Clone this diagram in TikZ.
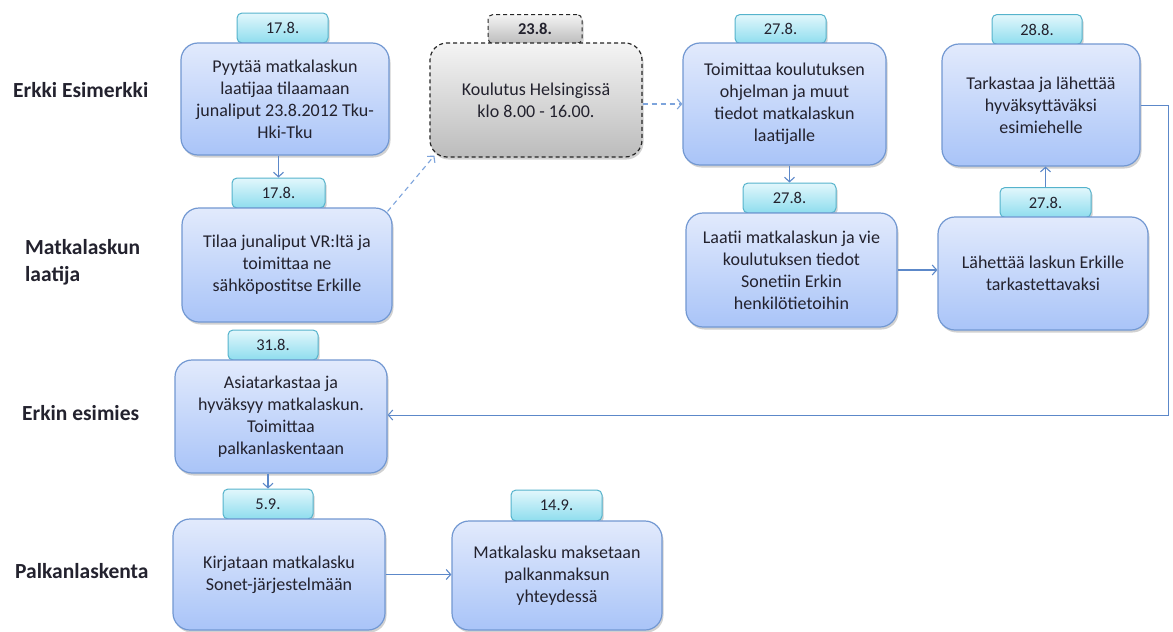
\documentclass[tikz,border=0pt]{standalone}
\usepackage{fontspec}
\setmainfont{Carlito}
\usetikzlibrary{arrows.meta,shadows,calc}

\definecolor{boxtop}{HTML}{E2EAFC}
\definecolor{boxbot}{HTML}{A9C4F8}
\definecolor{boxline}{HTML}{7298D2}
\definecolor{tabtop}{HTML}{E2F7FC}
\definecolor{tabbot}{HTML}{8EDDEE}
\definecolor{tabline}{HTML}{55B3CC}
\definecolor{greytop}{HTML}{F4F4F4}
\definecolor{greybot}{HTML}{BCBCBC}
\definecolor{inkcol}{HTML}{23222E}
\definecolor{linecol}{HTML}{5C88C9}
\definecolor{dashcol}{HTML}{7DA4DC}

\tikzset{
  softshadow/.style={drop shadow={shadow xshift=1.5pt, shadow yshift=-2.5pt, opacity=0.18, fill=black}},
  stepbox/.style={draw=boxline, line width=1.2pt, rounded corners=17pt,
    top color=boxtop, bottom color=boxbot, softshadow, inner sep=0pt,
    align=center, text=inkcol, font=\fontsize{18}{22}\selectfont},
  greybox/.style={stepbox, draw=black!85, dashed, dash pattern=on 4pt off 3pt,
    top color=greytop, bottom color=greybot},
  datetab/.style={draw=tabline, line width=1pt, rounded corners=5pt,
    top color=tabtop, bottom color=tabbot, softshadow, inner sep=0pt,
    text=inkcol, font=\fontsize{16.5}{20}\selectfont},
  greytab/.style={datetab, draw=black!85, dashed, dash pattern=on 4pt off 3pt,
    top color=greytop, bottom color=greybot},
  lane/.style={text=inkcol, inner sep=0pt, font=\fontsize{21.5}{27}\selectfont\bfseries},
  conn/.style={draw=linecol, line width=1.1pt, -{Straight Barb[length=4.5pt,width=10pt]}},
  dconn/.style={conn, draw=dashcol, dash pattern=on 5pt off 4pt},
}

\begin{document}
\begin{tikzpicture}[x=1pt,y=-1pt]
\useasboundingbox (0,0) rectangle (1173,632);
\fill[white] (0,0) rectangle (1173,632);

% lane titles
\node[lane, anchor=base west] (lane1) at (13,97) {Erkki Esimerkki};
\node[lane, anchor=west, align=left] (lane2) at (25,262) {Matkalaskun\\laatija};
\node[lane, anchor=base west] (lane3) at (22,420) {Erkin esimies};
\node[lane, anchor=base west] (lane4) at (15,578) {Palkanlaskenta};

% date tabs (drawn first, the boxes overlap their lower edge)
\node[datetab, minimum width=91pt, minimum height=30pt] (tA) at (282.5,28) {17.8.};
\node[datetab, minimum width=93pt, minimum height=30pt] (tB) at (278.5,193) {17.8.};
\node[greytab, minimum width=94pt, minimum height=29pt] (tG) at (535,29) {\textbf{23.8.}};
\node[datetab, minimum width=91pt, minimum height=29pt] (tC) at (780.5,29) {27.8.};
\node[datetab, minimum width=90pt, minimum height=30pt] (tD) at (1037,29.5) {28.8.};
\node[datetab, minimum width=93pt, minimum height=30pt] (tE) at (789.5,198) {27.8.};
\node[datetab, minimum width=91pt, minimum height=30pt] (tF) at (1045.5,202.5) {27.8.};
\node[datetab, minimum width=90pt, minimum height=30pt] (tH) at (273,345) {31.8.};
\node[datetab, minimum width=90pt, minimum height=30pt] (tI) at (268,504) {5.9.};
\node[datetab, minimum width=91pt, minimum height=31pt] (tJ) at (556.5,505.5) {14.9.};

% process steps
\node[stepbox, minimum width=208pt, minimum height=112pt] (A) at (285,99)
  {Pyytää matkalaskun\\laatijaa tilaamaan\\junaliput 23.8.2012 Tku-\\Hki-Tku};
\node[stepbox, minimum width=210pt, minimum height=114pt] (B) at (287,265)
  {Tilaa junaliput VR:ltä ja\\toimittaa ne\\sähköpostitse Erkille};
\node[greybox, minimum width=212pt, minimum height=114pt] (G) at (536,100)
  {Koulutus Helsingissä\\klo 8.00 - 16.00.};
\node[stepbox, minimum width=203pt, minimum height=122pt] (C) at (784.5,104)
  {Toimittaa koulutuksen\\ohjelman ja muut\\tiedot matkalaskun\\laatijalle};
\node[stepbox, minimum width=198pt, minimum height=122pt] (D) at (1041,105)
  {Tarkastaa ja lähettää\\hyväksyttäväksi\\esimiehelle};
\node[stepbox, minimum width=211pt, minimum height=114pt] (E) at (791.5,270)
  {Laatii matkalaskun ja vie\\koulutuksen tiedot\\Sonetiin Erkin\\henkilötietoihin};
\node[stepbox, minimum width=210pt, minimum height=113pt] (F) at (1043,273.5)
  {Lähettää laskun Erkille\\tarkastettavaksi};
\node[stepbox, minimum width=212pt, minimum height=113pt] (H) at (281,416.5)
  {Asiatarkastaa ja\\hyväksyy matkalaskun.\\Toimittaa\\palkanlaskentaan};
\node[stepbox, minimum width=212pt, minimum height=111pt] (I) at (279,574.5)
  {Kirjataan matkalasku\\Sonet-järjestelmään};
\node[stepbox, minimum width=210pt, minimum height=109pt] (J) at (557,575.5)
  {Matkalasku maksetaan\\palkanmaksun\\yhteydessä};

% flow
\draw[conn] (tB.north |- A.south) -- (tB.north);
\draw[dconn] ([xshift=-5pt,yshift=-4pt]B.north east) -- ([xshift=5pt,yshift=2pt]G.south west);
\draw[dconn] (G.east |- C.west) -- (C.west);
\draw[conn] (tE.north |- C.south) -- (tE.north);
\draw[conn] (E.east) -- (E.east -| F.west);
\draw[conn] (tF.north) -- (tF.north |- D.south);
\coordinate (turn) at (1168,415);
\draw[conn, line width=1pt] (D.east) -| (turn) -- (turn -| H.east);
\draw[conn] (tI.north |- H.south) -- (tI.north);
\draw[conn] (I.east) -- (I.east -| J.west);
\end{tikzpicture}
\end{document}
